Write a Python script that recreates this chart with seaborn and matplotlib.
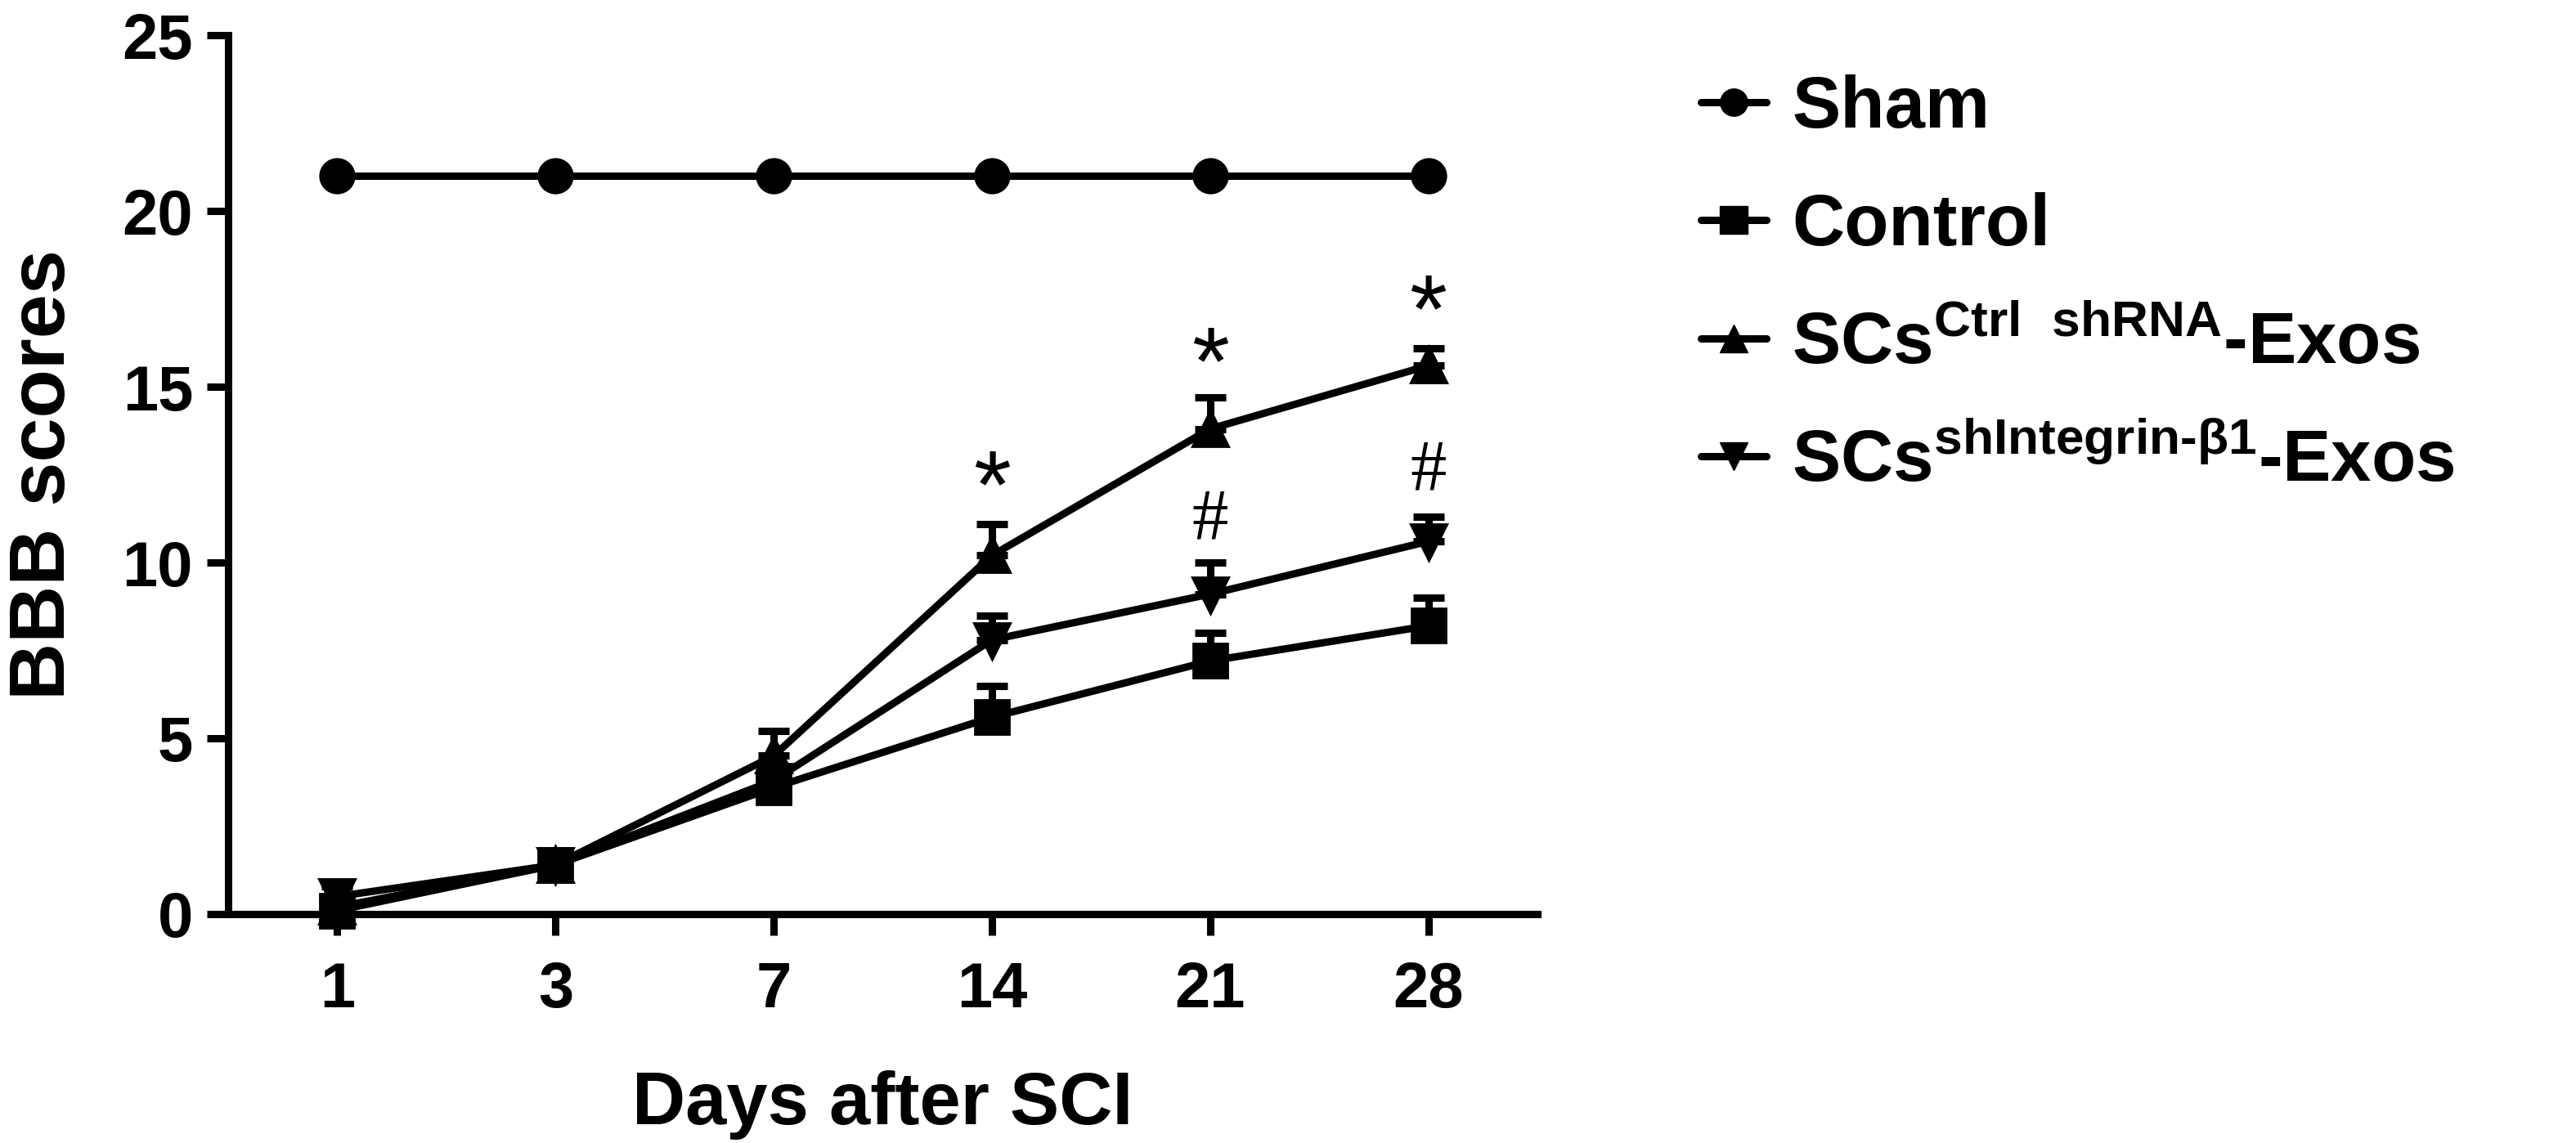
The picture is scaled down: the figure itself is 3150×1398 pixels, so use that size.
import numpy as np
import pandas as pd
import matplotlib
matplotlib.use("Agg")
import matplotlib.pyplot as plt
import seaborn as sns
from matplotlib.lines import Line2D

# data (BBB score, mean and upper SEM)
days = ["1", "3", "7", "14", "21", "28"]
groups = ["Sham", "Control", "CtrlshRNA", "shIntegrin"]
sham = [21.0, 21.0, 21.0, 21.0, 21.0, 21.0]
control = [0.1, 1.4, 3.6, 5.6, 7.2, 8.2]
ctrl_shrna = [0.2, 1.4, 4.5, 10.2, 13.8, 15.6]
sh_integrin = [0.5, 1.4, 3.8, 7.8, 9.1, 10.6]
sham_err = [0.0, 0.0, 0.0, 0.0, 0.0, 0.0]
control_err = [0.0, 0.0, 0.3, 0.9, 0.8, 0.8]
ctrl_shrna_err = [0.3, 0.0, 0.7, 0.9, 0.9, 0.5]
sh_integrin_err = [0.3, 0.0, 0.4, 0.7, 0.9, 0.7]

# significance marks
star_days = ["14", "21", "28"]
star_y = [12.6, 16.1, 17.6]
hash_days = ["21", "28"]
hash_y = [11.4, 12.8]

legend_labels = [
    "Sham",
    "Control",
    r"SCs$^{Ctrl\ \ shRNA}$-Exos",
    r"SCs$^{shIntegrin\text{-}β1}$-Exos",
]
markers = ["o", "s", "^", "v"]

sns.set_style("ticks")
plt.rcParams["font.family"] = ["Liberation Sans", "DejaVu Sans"]
plt.rcParams["font.weight"] = "bold"
plt.rcParams["mathtext.fontset"] = "custom"
plt.rcParams["mathtext.rm"] = "Liberation Sans:bold"
plt.rcParams["mathtext.it"] = "Liberation Sans:bold"
plt.rcParams["mathtext.bf"] = "Liberation Sans:bold"
for key in ["text.color", "axes.labelcolor", "xtick.color", "ytick.color",
            "axes.edgecolor"]:
    plt.rcParams[key] = "black"

df = pd.DataFrame({
    "day": days * 4,
    "score": sham + control + ctrl_shrna + sh_integrin,
    "group": np.repeat(groups, len(days)),
})
errs = [sham_err, control_err, ctrl_shrna_err, sh_integrin_err]
means = [sham, control, ctrl_shrna, sh_integrin]

fig = plt.figure(figsize=(31.5, 13.98), dpi=100)
ax = fig.add_axes([0.0886, 0.2003, 0.5082, 0.7689])

lw = 6.5
sns.pointplot(data=df, x="day", y="score", hue="group", order=days,
              hue_order=groups, palette=["black"] * 4, markers=markers,
              linestyles="-", errorbar=None, markersize=27, linewidth=lw,
              legend=False, ax=ax)

# upper error bars
xpos = np.arange(len(days))
for m, e in zip(means, errs):
    m = np.array(m)
    e = np.array(e)
    keep = e > 0
    if keep.any():
        ax.errorbar(xpos[keep], m[keep], yerr=[np.zeros(keep.sum()), e[keep]],
                    fmt="none", ecolor="black", elinewidth=lw, capsize=14,
                    capthick=lw, zorder=1)

for artist in ax.lines + ax.collections:
    artist.set_clip_on(False)

for d, y in zip(star_days, star_y):
    ax.annotate("*", (days.index(d), y), xytext=(0, -41), textcoords="offset points",
                ha="center", va="baseline", fontsize=85, fontweight="normal",
                family=["Liberation Sans"])
for d, y in zip(hash_days, hash_y):
    ax.annotate("#", (days.index(d), y), xytext=(0, -22), textcoords="offset points",
                ha="center", va="baseline", fontsize=64, fontweight="normal",
                family=["Liberation Serif"])

ax.set_xlim(-0.5, 5.5)
ax.set_ylim(0, 25)
ax.set_yticks([0, 5, 10, 15, 20, 25])
sns.despine(ax=ax)
for s in ["left", "bottom"]:
    ax.spines[s].set_linewidth(6.5)
ax.tick_params(axis="both", length=19, width=6.5, labelsize=56, pad=12)
ax.tick_params(axis="x", pad=22)
ax.set_xlabel("Days after SCI", fontsize=65, fontweight="bold", labelpad=44)
ax.set_ylabel("BBB scores", fontsize=70, fontweight="bold", labelpad=36)

handles = [Line2D([], [], color="black", lw=lw, marker=mk, markersize=24)
           for mk in markers]
fig.legend(handles, legend_labels, loc="upper left",
           bbox_to_anchor=(2080 / 3150, 1 - 91 / 1398), frameon=False,
           fontsize=64, handlelength=0.9, handletextpad=0.35,
           labelspacing=0.68, borderpad=0, borderaxespad=0)

fig.savefig("out.png", dpi=100)
